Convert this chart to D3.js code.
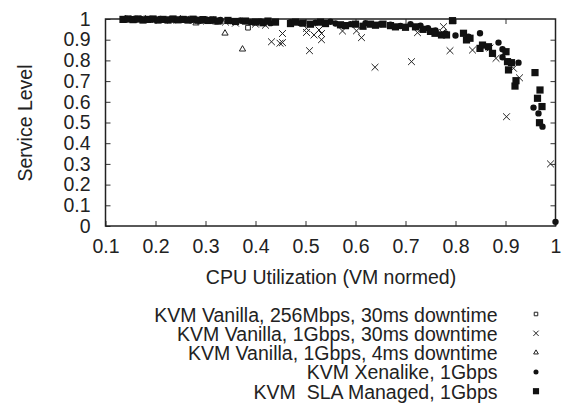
<!DOCTYPE html>
<html>
<head>
<meta charset="utf-8">
<script src="https://cdn.jsdelivr.net/npm/d3@7"></script>
<style>
  body { margin: 0; background: #fff; }
  text { font-family: "Liberation Sans", Arial, Helvetica, sans-serif; fill: #222; white-space: pre; }
</style>
</head>
<body>
<div id="chart"></div>
<script>
// series: [cpu utilization, service level]
var vanilla256 = [[0.19,1.0],[0.27,0.995],[0.33,0.99],[0.375,0.99],[0.385,0.958]];

var vanilla1g30 = [[0.15,1.0],[0.17,1.0],[0.2,0.998],[0.23,0.995],[0.26,0.998],[0.29,0.99],[0.31,0.995],
  [0.34,0.985],[0.36,0.98],[0.4,0.975],[0.42,0.97],
  [0.432,0.89],[0.449,0.883],[0.454,0.886],[0.454,0.93],[0.502,0.955],[0.502,0.935],[0.508,0.847],
  [0.517,0.923],[0.527,0.947],[0.532,0.90],[0.532,0.93],[0.574,0.942],[0.602,0.943],[0.612,0.91],
  [0.639,0.767],[0.712,0.794],[0.724,0.934],[0.774,0.934],[0.776,0.963],[0.789,0.847],[0.834,0.85],
  [0.869,0.86],[0.881,0.81],[0.916,0.762],[0.928,0.716],[0.902,0.528],[0.99,0.30]];

var vanilla1g4 = [[0.14,1.0],[0.16,0.998],[0.18,1.0],[0.22,0.995],[0.25,1.0],[0.281,0.98],[0.3,0.99],
  [0.32,0.985],[0.339,0.931],[0.374,0.854]];

var xenalike = [[0.14,0.998],[0.15,1.0],[0.16,0.997],[0.17,1.0],[0.18,0.996],[0.19,0.999],[0.2,0.997],
  [0.21,1.0],[0.22,0.996],[0.23,0.999],[0.24,0.995],[0.26,0.998],[0.27,0.994],[0.28,0.998],[0.29,0.993],
  [0.3,0.997],[0.31,0.992],[0.33,0.995],[0.35,0.99],[0.37,0.993],[0.39,0.985],[0.41,0.988],[0.43,0.98],
  [0.47,0.985],[0.49,0.98],[0.52,0.982],[0.55,0.987],[0.56,0.978],[0.59,0.975],[0.62,0.98],[0.65,0.975],
  [0.67,0.972],[0.69,0.966],[0.71,0.975],[0.73,0.968],[0.745,0.955],[0.76,0.945],[0.78,0.93],[0.80,0.92],
  [0.826,0.915],[0.849,0.931],[0.886,0.886],[0.894,0.854],[0.894,0.815],[0.926,0.789],[0.956,0.572],
  [0.966,0.544],[0.974,0.48],[1.0,0.02]];

var slaManaged = [[0.135,0.998],[0.145,1.0],[0.155,0.997],[0.165,1.0],[0.175,0.995],[0.185,0.998],
  [0.195,1.0],[0.205,0.995],[0.215,0.998],[0.225,0.995],[0.235,1.0],[0.245,0.996],[0.255,0.998],
  [0.265,0.995],[0.275,0.999],[0.285,0.994],[0.295,0.997],[0.305,0.993],[0.315,0.996],[0.325,0.99],
  [0.345,0.993],[0.36,0.988],[0.38,0.99],[0.40,0.985],[0.415,0.982],[0.425,0.99],[0.44,0.985],
  [0.47,0.978],[0.48,0.985],[0.495,0.98],[0.51,0.975],[0.53,0.985],[0.54,0.978],[0.57,0.972],
  [0.58,0.968],[0.60,0.975],[0.615,0.965],[0.63,0.975],[0.64,0.97],[0.655,0.975],[0.67,0.968],
  [0.68,0.962],[0.70,0.96],[0.72,0.962],[0.735,0.95],[0.75,0.94],[0.759,0.931],[0.772,0.923],
  [0.782,0.923],[0.794,0.992],[0.816,0.931],[0.822,0.899],[0.829,0.907],[0.849,0.858],[0.854,0.874],
  [0.866,0.866],[0.874,0.834],[0.901,0.842],[0.904,0.794],[0.906,0.754],[0.912,0.789],[0.919,0.676],
  [0.921,0.702],[0.959,0.741],[0.964,0.617],[0.969,0.657],[0.968,0.499],[0.973,0.577]];

var seriesNames = ["KVM Vanilla, 256Mbps, 30ms downtime", "KVM Vanilla, 1Gbps, 30ms downtime",
  "KVM Vanilla, 1Gbps, 4ms downtime", "KVM Xenalike, 1Gbps", "KVM  SLA Managed, 1Gbps"];
var xTicks = [0.1, 0.2, 0.3, 0.4, 0.5, 0.6, 0.7, 0.8, 0.9, 1];
var yTicks = [0, 0.1, 0.2, 0.3, 0.4, 0.5, 0.6, 0.7, 0.8, 0.9, 1];

var width = 563, height = 403;
var margin = {left: 105.5, right: 7.5, top: 19, bottom: 177};
var w = width - margin.left - margin.right,
    h = height - margin.top - margin.bottom;
var fontSize = 19.5;

var svg = d3.select("#chart").append("svg")
    .attr("width", width)
    .attr("height", height);

var x = d3.scaleLinear().domain([0.1, 1]).range([0, w]),
    y = d3.scaleLinear().domain([0, 1]).range([h, 0]);

var g = svg.append("g")
    .attr("transform", "translate(" + margin.left + "," + margin.top + ")");

var fmt = function(d) { return String(+d.toFixed(1)); };

// axes, ticks inward on all four sides
g.append("g").attr("transform", "translate(0," + h + ")")
    .call(d3.axisBottom(x).tickValues(xTicks).tickSizeInner(-5).tickSizeOuter(0).tickPadding(13).tickFormat(fmt));
g.append("g")
    .call(d3.axisLeft(y).tickValues(yTicks).tickSizeInner(-5).tickSizeOuter(0).tickPadding(15).tickFormat(fmt));
g.append("g")
    .call(d3.axisTop(x).tickValues(xTicks.slice(1, -1)).tickSizeInner(-5).tickSizeOuter(0).tickFormat(""));
g.append("g").attr("transform", "translate(" + w + ",0)")
    .call(d3.axisRight(y).tickValues(yTicks.slice(1, -1)).tickSizeInner(-5).tickSizeOuter(0).tickFormat(""));

g.selectAll(".domain").remove();
g.selectAll(".tick line").attr("stroke", "#333").attr("stroke-width", 1);
g.selectAll(".tick text").attr("font-size", fontSize).attr("fill", "#222")
    .attr("font-family", "'Liberation Sans', Arial, sans-serif");

g.append("rect")
    .attr("width", w).attr("height", h)
    .attr("fill", "none").attr("stroke", "#222").attr("stroke-width", 1.5);

// axis titles
svg.append("text")
    .attr("x", 331).attr("y", 283.5)
    .attr("text-anchor", "middle").attr("font-size", fontSize)
    .text("CPU Utilization (VM normed)");
svg.append("text")
    .attr("transform", "translate(32,123) rotate(-90)")
    .attr("text-anchor", "middle").attr("font-size", fontSize)
    .text("Service Level");

// markers
var styles = [
  {type: d3.symbolSquare2, size: 28, fill: "none", stroke: "#222", sw: 1},
  {type: d3.symbolTimes, size: 32, fill: "none", stroke: "#222", sw: 1},
  {type: d3.symbolTriangle2, size: 28, fill: "none", stroke: "#222", sw: 1},
  {type: d3.symbolCircle, size: 32, fill: "#111", stroke: "none", sw: 0},
  {type: d3.symbolSquare, size: 52, fill: "#111", stroke: "none", sw: 0}
];
var allData = [vanilla256, vanilla1g30, vanilla1g4, xenalike, slaManaged];

allData.forEach(function(data, i) {
  var s = styles[i];
  g.append("g").selectAll("path")
      .data(data)
      .enter().append("path")
      .attr("transform", function(d) { return "translate(" + x(d[0]) + "," + y(d[1]) + ")"; })
      .attr("d", d3.symbol().type(s.type).size(s.size))
      .attr("fill", s.fill)
      .attr("stroke", s.stroke)
      .attr("stroke-width", s.sw);
});

// legend
var legendSizes = [16, 20, 16, 20, 38];
var leg = svg.append("g");
seriesNames.forEach(function(name, i) {
  var yy = 321.5 + i * 19.3;
  leg.append("text")
      .attr("x", 497.5).attr("y", yy)
      .attr("text-anchor", "end").attr("font-size", fontSize)
      .text(name);
  var s = styles[i];
  leg.append("path")
      .attr("transform", "translate(536," + (yy - 7.5) + ")")
      .attr("d", d3.symbol().type(s.type).size(legendSizes[i]))
      .attr("fill", s.fill)
      .attr("stroke", s.stroke)
      .attr("stroke-width", s.sw);
});
</script>
</body>
</html>
